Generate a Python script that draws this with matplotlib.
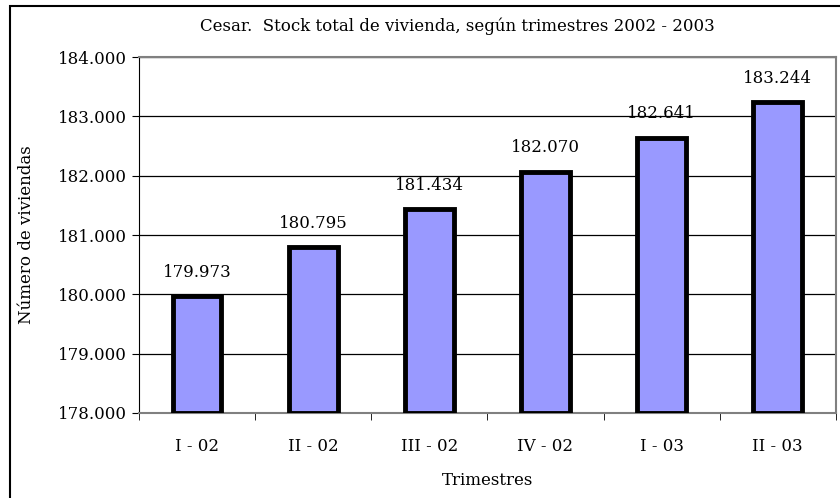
import matplotlib.pyplot as plt
from matplotlib.patches import Rectangle

# ----------------------------
# DATOS
# ----------------------------
trimestres = ["I - 02", "II - 02", "III - 02", "IV - 02", "I - 03", "II - 03"]
viviendas = [179973, 180795, 181434, 182070, 182641, 183244]
y_ticks = [178000, 179000, 180000, 181000, 182000, 183000, 184000]


def fmt(v):
    return f"{v:,}".replace(",", ".")


plt.rcParams['font.family'] = ['DejaVu Serif']
FS = 12

fig = plt.figure(figsize=(8.4, 4.98), dpi=100)
ax = fig.add_axes([0.1655, 0.1707, 0.8295, 0.7148])

# marco exterior
fig.patches.append(Rectangle((10 / 840, -0.1), 1.2, 1.1 - 6 / 498, transform=fig.transFigure,
                             fill=False, edgecolor="black", linewidth=1.5))

x = range(len(trimestres))
ax.bar(x, [v - 178000 for v in viviendas], bottom=178000, width=0.42,
       color="#9999FF", edgecolor="black", linewidth=3.5, zorder=3)

for i, v in enumerate(viviendas):
    ax.annotate(fmt(v), (i, v), xytext=(0, 11), textcoords="offset points",
                ha="center", va="bottom", fontsize=FS)

ax.set_xlim(-0.5, len(trimestres) - 0.5)
ax.set_ylim(178000, 184000)
ax.set_yticks(y_ticks)
ax.set_yticklabels([fmt(t) for t in y_ticks], fontsize=FS)
ax.yaxis.grid(True, color="black", linewidth=0.9, zorder=0)
ax.set_axisbelow(True)

ax.set_xticks(x)
ax.set_xticklabels(trimestres, fontsize=FS)
ax.tick_params(axis="x", length=0, pad=18)
ax.set_xticks([i - 0.5 for i in range(len(trimestres) + 1)], minor=True)
ax.tick_params(axis="x", which="minor", length=5, direction="out")
ax.tick_params(axis="y", length=5, direction="out", pad=4)

for s in ["top", "right"]:
    ax.spines[s].set_color("#808080")
    ax.spines[s].set_linewidth(1.5)
ax.spines["left"].set_color("black")
ax.spines["bottom"].set_color("#808080")
ax.spines["bottom"].set_linewidth(1.5)

ax.set_xlabel("Trimestres", fontsize=FS, labelpad=12)
ax.set_ylabel("Número de viviendas", fontsize=FS, labelpad=16)
fig.text(0.544, 0.948, "Cesar.  Stock total de vivienda, según trimestres 2002 - 2003",
         ha="center", va="center", fontsize=FS)

fig.savefig("out.png", dpi=100)
